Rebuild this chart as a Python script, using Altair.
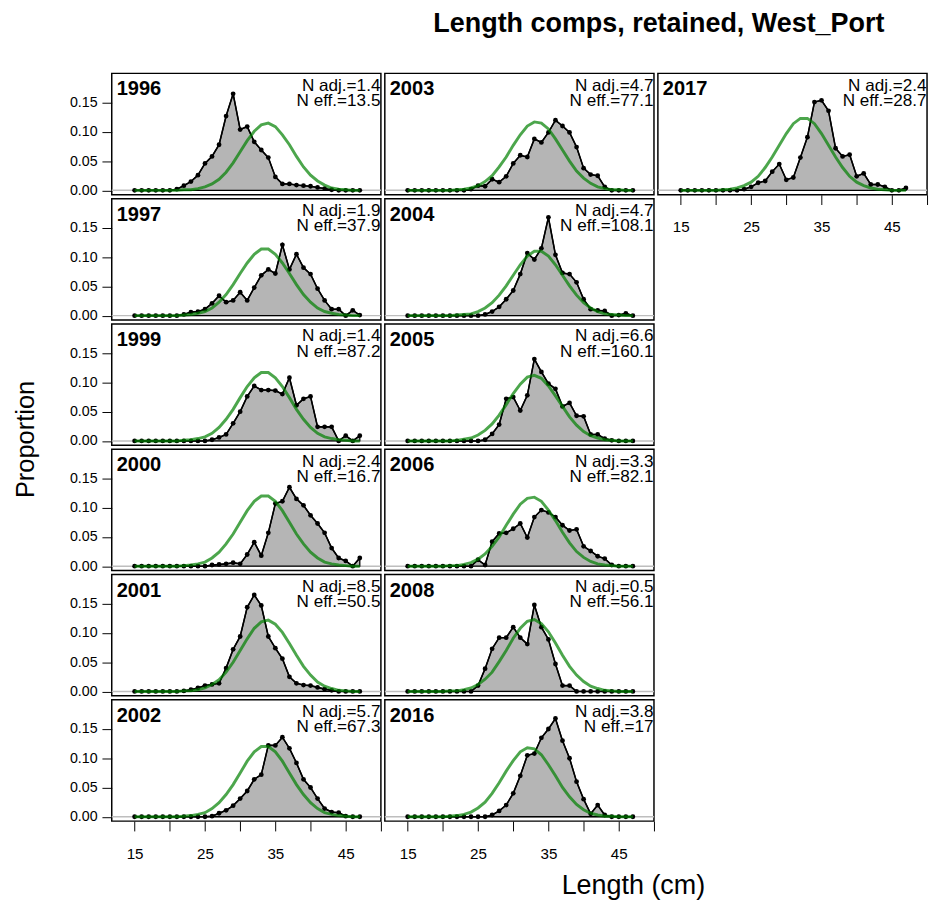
import altair as alt
import pandas as pd

FONT = "Liberation Sans"

lengths = list(range(15, 48))
years = [1996, 1997, 1999, 2000, 2001, 2002, 2003, 2004, 2005, 2006, 2008, 2016, 2017]
n_adj = ["1.4", "1.9", "1.4", "2.4", "8.5", "5.7", "4.7", "4.7", "6.6", "3.3", "0.5", "3.8", "2.4"]
n_eff = ["13.5", "37.9", "87.2", "16.7", "50.5", "67.3", "77.1", "108.1", "160.1", "82.1", "56.1", "17", "28.7"]

obs_1996 = [0]*6 + [0.002,0.008,0.015,0.026,0.046,0.058,0.078,0.127,0.165,0.104,0.109,0.083,0.069,0.056,0.023,0.011,0.011,0.009,0.008,0.007,0.005,0.003,0.001,0,0,0,0]
exp_1996 = [0]*6 + [0.000,0.001,0.001,0.003,0.006,0.011,0.019,0.031,0.047,0.066,0.085,0.101,0.112,0.115,0.109,0.095,0.078,0.058,0.040,0.026,0.016,0.009,0.004,0.002,0.001,0,0]
obs_1997 = [0]*7 + [0.002,0.006,0.007,0.011,0.021,0.034,0.023,0.026,0.040,0.026,0.048,0.069,0.079,0.072,0.121,0.079,0.105,0.082,0.071,0.046,0.026,0.011,0.011,0.000,0.009,0.001]
exp_1997 = [0]*6 + [0.000,0.001,0.002,0.004,0.007,0.013,0.023,0.036,0.053,0.072,0.090,0.105,0.114,0.114,0.105,0.090,0.072,0.053,0.036,0.023,0.013,0.007,0.004,0.002,0.001,0,0]
obs_1999 = [0]*11 + [0.002,0.006,0.011,0.030,0.050,0.076,0.094,0.087,0.087,0.086,0.080,0.108,0.061,0.072,0.076,0.024,0.024,0.024,0.000,0.009,0.000,0.009]
exp_1999 = [0]*6 + [0.000,0.001,0.002,0.004,0.007,0.013,0.023,0.037,0.054,0.074,0.093,0.108,0.117,0.117,0.108,0.093,0.074,0.054,0.037,0.023,0.013,0.007,0.004,0.002,0.001,0,0]
obs_2000 = [0]*11 + [0.002,0.003,0.004,0.006,0.004,0.020,0.041,0.018,0.057,0.107,0.111,0.135,0.115,0.104,0.087,0.073,0.057,0.031,0.014,0.009,0.000,0.014]
exp_2000 = [0]*7 + [0.001,0.002,0.004,0.007,0.014,0.024,0.038,0.055,0.075,0.095,0.111,0.120,0.120,0.111,0.095,0.075,0.055,0.038,0.024,0.014,0.007,0.004,0.002,0.001,0,0]
obs_2001 = [0]*7 + [0.001,0.003,0.006,0.010,0.012,0.014,0.040,0.072,0.094,0.144,0.165,0.147,0.094,0.074,0.056,0.025,0.014,0.011,0.010,0.007,0.004,0.002,0,0,0,0]
exp_2001 = [0]*7 + [0.001,0.001,0.003,0.006,0.012,0.020,0.033,0.050,0.070,0.090,0.108,0.119,0.122,0.115,0.101,0.082,0.062,0.043,0.028,0.016,0.009,0.005,0.002,0.001,0,0]
obs_2002 = [0]*11 + [0.001,0.006,0.011,0.019,0.031,0.044,0.064,0.072,0.122,0.122,0.136,0.117,0.092,0.064,0.050,0.031,0.014,0.008,0.007,0.001,0,0]
exp_2002 = [0]*7 + [0.001,0.002,0.004,0.007,0.014,0.024,0.038,0.055,0.075,0.095,0.111,0.120,0.120,0.111,0.095,0.075,0.055,0.038,0.024,0.014,0.007,0.004,0.002,0.001,0,0]
obs_2003 = [0]*9 + [0.002,0.008,0.007,0.019,0.014,0.024,0.046,0.060,0.057,0.088,0.082,0.099,0.120,0.110,0.099,0.074,0.038,0.027,0.025,0.006,0,0,0,0]
exp_2003 = [0]*7 + [0.001,0.002,0.004,0.008,0.015,0.025,0.040,0.057,0.077,0.095,0.110,0.117,0.115,0.105,0.088,0.069,0.050,0.033,0.021,0.012,0.006,0.003,0.001,0.001,0,0]
obs_2004 = [0]*11 + [0.002,0.007,0.015,0.028,0.043,0.071,0.107,0.096,0.115,0.168,0.104,0.073,0.071,0.057,0.028,0.011,0.009,0.008,0,0.001,0.004,0]
exp_2004 = [0]*7 + [0.001,0.002,0.003,0.007,0.013,0.022,0.035,0.051,0.069,0.087,0.102,0.110,0.110,0.102,0.087,0.069,0.051,0.035,0.022,0.013,0.007,0.003,0.002,0.001,0,0]
obs_2005 = [0]*11 + [0.002,0.012,0.028,0.072,0.075,0.052,0.078,0.140,0.118,0.098,0.089,0.059,0.065,0.043,0.042,0.011,0.011,0.004,0.001,0,0,0]
exp_2005 = [0]*6 + [0.000,0.001,0.003,0.005,0.010,0.018,0.029,0.044,0.062,0.081,0.097,0.109,0.112,0.107,0.094,0.077,0.059,0.041,0.027,0.016,0.009,0.005,0.002,0.001,0,0,0]
obs_2006 = [0]*10 + [0.011,0.002,0.042,0.056,0.057,0.064,0.073,0.049,0.084,0.096,0.092,0.084,0.070,0.061,0.063,0.034,0.026,0.017,0.013,0.002,0,0,0]
exp_2006 = [0]*6 + [0.001,0.001,0.003,0.006,0.012,0.021,0.034,0.050,0.070,0.089,0.106,0.116,0.118,0.111,0.096,0.078,0.058,0.040,0.025,0.015,0.008,0.004,0.002,0.001,0,0,0]
obs_2008 = [0]*10 + [0.010,0.039,0.073,0.092,0.092,0.110,0.092,0.081,0.148,0.110,0.089,0.047,0.010,0.010] + [0]*9
exp_2008 = [0]*6 + [0.001,0.001,0.003,0.006,0.012,0.021,0.033,0.051,0.070,0.091,0.108,0.120,0.123,0.116,0.102,0.083,0.062,0.043,0.028,0.017,0.009,0.005,0.002,0.001,0,0,0]
obs_2016 = [0]*12 + [0.003,0.010,0.020,0.040,0.070,0.105,0.108,0.135,0.150,0.168,0.130,0.100,0.060,0.030,0.005,0.020,0.003] + [0]*4
exp_2016 = [0]*5 + [0.000,0.001,0.002,0.004,0.008,0.015,0.025,0.040,0.058,0.078,0.096,0.111,0.118,0.116,0.106,0.089,0.070,0.050,0.034,0.021,0.012,0.006,0.003,0.001,0.001,0,0,0]
obs_2017 = [0]*9 + [0.002,0.006,0.013,0.016,0.032,0.045,0.018,0.022,0.056,0.091,0.151,0.154,0.136,0.072,0.058,0.061,0.024,0.029,0.010,0.010,0.006,0,0,0.004]
exp_2017 = [0]*5 + [0.000,0.001,0.002,0.004,0.008,0.014,0.024,0.039,0.057,0.077,0.097,0.114,0.123,0.123,0.114,0.097,0.077,0.057,0.039,0.024,0.014,0.008,0.004,0.002,0.001,0,0,0]

obs_all = [obs_1996, obs_1997, obs_1999, obs_2000, obs_2001, obs_2002, obs_2003,
           obs_2004, obs_2005, obs_2006, obs_2008, obs_2016, obs_2017]
exp_all = [exp_1996, exp_1997, exp_1999, exp_2000, exp_2001, exp_2002, exp_2003,
           exp_2004, exp_2005, exp_2006, exp_2008, exp_2016, exp_2017]
for a, b in zip(obs_all, exp_all):
    assert len(a) == len(lengths) and len(b) == len(lengths)

W, H = 275, 124
xs = alt.Scale(domain=[11.75, 50.0], nice=False, zero=False)
ys = alt.Scale(domain=[-0.0075, 0.2], nice=False, zero=False)
NOSTROKE = alt.ViewBackground(stroke="transparent")


def make_panel(i, show_y, show_x):
    yr = years[i]
    d = pd.DataFrame({"length": lengths, "obs": obs_all[i], "exp": exp_all[i]})
    if show_x:
        xax = alt.Axis(values=[15, 20, 25, 30, 35, 40, 45, 50],
                       labelExpr="datum.value % 10 == 5 ? datum.label : ''",
                       tickSize=10, labelPadding=16, labelFontSize=15.5, title=None,
                       labelFlush=False, labelOverlap=False)
    else:
        xax = None
    if show_y:
        yax = alt.Axis(values=[0, 0.05, 0.1, 0.15], format=".2f", tickSize=10,
                       labelPadding=5, labelFontSize=14.5, title=None,
                       labelFlush=False, labelOverlap=False)
    else:
        yax = None
    base = alt.Chart(d)
    x = alt.X("length:Q", scale=xs, axis=xax)
    zero = alt.Chart(pd.DataFrame({"z": [0.0]})).mark_rule(
        color="#bebebe", strokeWidth=1.5).encode(y=alt.Y("z:Q", scale=ys, axis=yax))
    area = base.mark_area(fill="#b5b5b5", stroke="black", strokeWidth=1.3, opacity=1).encode(
        x=x, y=alt.Y("obs:Q", scale=ys, axis=yax), y2=alt.datum(0))
    oline = base.mark_line(color="black", strokeWidth=1.6).encode(
        x=x, y=alt.Y("obs:Q", scale=ys, axis=yax))
    opts = base.mark_circle(color="black", size=24, opacity=1).encode(
        x=x, y=alt.Y("obs:Q", scale=ys, axis=yax))
    eline = base.mark_line(color="#008000", opacity=0.7, strokeWidth=3).encode(
        x=x, y=alt.Y("exp:Q", scale=ys, axis=yax))
    lab = alt.Chart(pd.DataFrame({"yr": [str(yr)], "a": ["N adj.=" + n_adj[i]],
                                  "e": ["N eff.=" + n_eff[i]]}))
    t_yr = lab.mark_text(align="left", baseline="alphabetic", font=FONT, fontSize=20.5,
                         fontWeight="bold", color="black").encode(
        x=alt.value(5), y=alt.value(22.5), text="yr:N")
    t_a = lab.mark_text(align="right", baseline="alphabetic", font=FONT, fontSize=17.5,
                        color="black").encode(x=alt.value(W - 0.5), y=alt.value(17.7), text="a:N")
    t_e = lab.mark_text(align="right", baseline="alphabetic", font=FONT, fontSize=17.5,
                        color="black").encode(x=alt.value(W - 0.5), y=alt.value(33.3), text="e:N")
    return alt.layer(zero, area, oline, opts, eline, t_yr, t_a, t_e).properties(width=W, height=H)


def build(header_h, pad_top):
    col1 = alt.vconcat(*[make_panel(i, True, i == 5) for i in range(6)], spacing=0)
    col2 = alt.vconcat(*[make_panel(i, False, i == 11) for i in range(6, 12)], spacing=0)
    col3 = make_panel(12, False, True)
    ylab = alt.Chart(pd.DataFrame({"t": ["Proportion"]})).mark_text(
        angle=270, fontSize=26, font=FONT, baseline="middle", align="center", color="black"
    ).encode(text="t:N", x=alt.value(11), y=alt.value(374)).properties(
        width=53, height=744, view=NOSTROKE)
    grid = alt.hconcat(ylab, col1, col2, col3, spacing=0)
    header = alt.Chart(pd.DataFrame({"t": ["Length comps, retained, West_Port"]})).mark_text(
        fontSize=27.5, font=FONT, fontWeight="bold", baseline="alphabetic", align="center",
        color="black").encode(text="t:N", x=alt.value(657), y=alt.value(23.5)).properties(
        width=900, height=header_h, view=NOSTROKE)
    xlab = alt.Chart(pd.DataFrame({"t": ["Length (cm)"]})).mark_text(
        fontSize=27.5, font=FONT, baseline="middle", align="center", color="black"
    ).encode(text="t:N", x=alt.value(631), y=alt.value(22)).properties(
        width=900, height=24, view=NOSTROKE)
    return alt.vconcat(header, grid, xlab, spacing=0).properties(
        padding={"left": 5, "top": pad_top, "right": 0, "bottom": 0},
    ).configure_view(stroke="black", strokeWidth=1.5).configure_axis(
        labelFont=FONT, labelColor="black", tickColor="black",
        tickWidth=1, domain=False, grid=False)


try:
    chart = build(64, -10)
    chart.to_dict()
except Exception:
    chart = build(54, 0)

chart.save("out.html", embed_options={"renderer": "svg", "actions": False})
